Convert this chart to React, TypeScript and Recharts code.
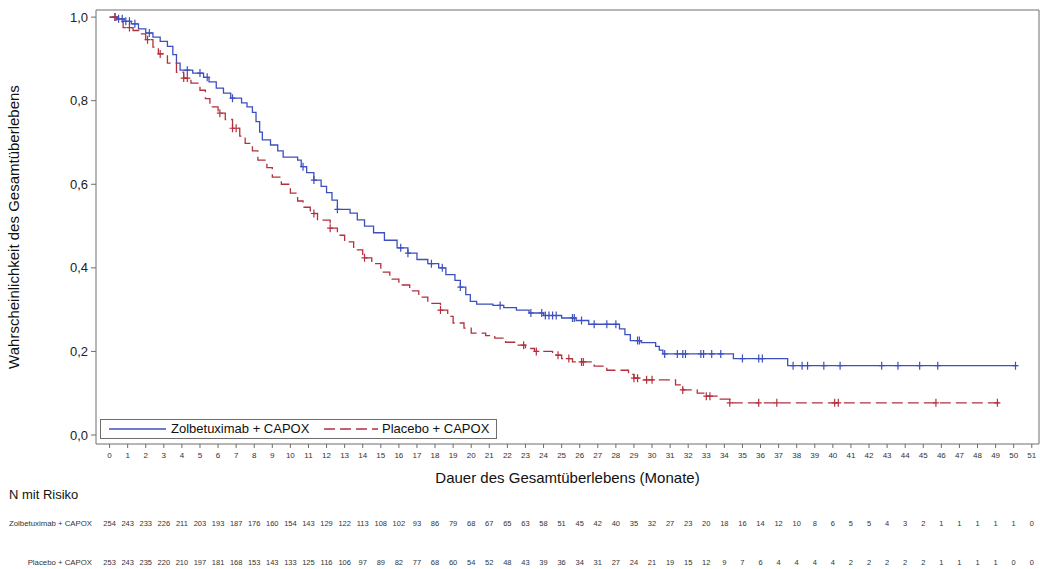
import React from 'react';
import { ComposedChart, Line, Scatter, XAxis, YAxis, Legend } from 'recharts';

// ---- Kaplan-Meier step data (months, survival probability) ----
const zolbTimes = [0, 0.4, 0.8, 1.2, 1.6, 2.0, 2.4, 2.8, 3.2, 3.5, 3.7, 3.9, 4.6, 5.2, 5.5, 5.9, 6.3, 6.7, 7.3, 7.6, 7.9, 8.1, 8.3, 8.45, 8.9, 9.3, 9.6, 10.4, 10.6, 10.9, 11.3, 11.7, 12.0, 12.3, 12.6, 13.3, 13.7, 14.1, 14.6, 15.2, 15.9, 16.5, 17.0, 17.6, 18.2, 18.6, 19.1, 19.4, 19.7, 19.95, 20.3, 21.2, 21.8, 22.5, 23.2, 24.0, 25.0, 25.8, 26.5, 28.2, 28.5, 28.8, 29.4, 30.2, 30.4, 30.6, 34.5, 37.5, 50.2];
const zolbSurv = [1.0, 0.996, 0.99, 0.984, 0.972, 0.962, 0.952, 0.942, 0.93, 0.91, 0.89, 0.873, 0.866, 0.856, 0.845, 0.83, 0.818, 0.806, 0.795, 0.785, 0.772, 0.75, 0.725, 0.706, 0.694, 0.68, 0.665, 0.658, 0.642, 0.628, 0.61, 0.595, 0.58, 0.562, 0.54, 0.531, 0.515, 0.5, 0.484, 0.466, 0.448, 0.435, 0.42, 0.41, 0.4, 0.384, 0.37, 0.354, 0.336, 0.32, 0.313, 0.31, 0.305, 0.299, 0.292, 0.286, 0.28, 0.274, 0.265, 0.254, 0.24, 0.226, 0.221, 0.212, 0.203, 0.194, 0.183, 0.166, 0.166];
const zolbCensor = [0.3, 0.5, 0.7, 0.9, 1.1, 1.4, 2.2, 4.3, 5.0, 5.4, 6.8, 10.7, 11.3, 12.6, 16.1, 16.5, 17.8, 18.4, 19.4, 21.6, 23.3, 23.9, 24.1, 24.3, 24.5, 24.7, 25.6, 25.7, 26.1, 26.8, 27.5, 28.0, 29.2, 29.3, 30.7, 31.4, 31.7, 31.85, 32.7, 32.85, 33.3, 33.8, 35.0, 35.9, 36.1, 37.8, 38.3, 38.6, 39.5, 40.4, 42.7, 43.6, 44.8, 45.8, 50.1];

const placTimes = [0, 0.4, 0.75, 1.3, 1.7, 2.0, 2.4, 2.7, 3.2, 3.7, 4.1, 4.5, 5.0, 5.3, 5.55, 6.0, 6.4, 6.8, 7.2, 7.5, 7.9, 8.2, 8.7, 9.0, 9.5, 10.0, 10.4, 10.7, 11.1, 11.5, 12.2, 12.6, 13.0, 13.5, 14.0, 14.5, 15.0, 15.5, 16.0, 16.6, 17.1, 17.6, 18.3, 18.7, 19.0, 19.6, 20.0, 20.8, 21.3, 21.9, 22.4, 23.0, 23.5, 24.5, 25.0, 25.6, 26.8, 27.5, 28.7, 29.0, 29.5, 31.3, 31.7, 32.5, 33.0, 33.6, 34.3, 49.2];
const placSurv = [1.0, 0.99, 0.975, 0.968, 0.96, 0.946, 0.928, 0.912, 0.89, 0.868, 0.854, 0.842, 0.825, 0.805, 0.785, 0.77, 0.755, 0.734, 0.715, 0.698, 0.68, 0.658, 0.64, 0.617, 0.6, 0.579, 0.56, 0.545, 0.53, 0.514, 0.495, 0.478, 0.462, 0.443, 0.424, 0.41, 0.39, 0.373, 0.359, 0.345, 0.33, 0.315, 0.299, 0.284, 0.268, 0.256, 0.244, 0.238, 0.232, 0.222, 0.215, 0.207, 0.2, 0.191, 0.183, 0.175, 0.165, 0.155, 0.145, 0.136, 0.132, 0.12, 0.108, 0.1, 0.093, 0.086, 0.077, 0.077];
const placCensor = [0.3, 1.1, 2.1, 2.8, 4.1, 4.3, 6.1, 6.8, 7.0, 11.3, 12.2, 14.1, 18.3, 22.9, 23.6, 24.8, 25.4, 26.1, 26.2, 29.0, 29.2, 29.7, 30.0, 31.7, 33.0, 33.2, 34.3, 35.9, 36.9, 40.1, 40.3, 45.7, 49.1];

// ---- number at risk ----
const zolbAtRisk = [254, 243, 233, 226, 211, 203, 193, 187, 176, 160, 154, 143, 129, 122, 113, 108, 102, 93, 86, 79, 68, 67, 65, 63, 58, 51, 45, 42, 40, 35, 32, 27, 23, 20, 18, 16, 14, 12, 10, 8, 6, 5, 5, 4, 3, 2, 1, 1, 1, 1, 1, 0];
const placAtRisk = [253, 243, 235, 220, 210, 197, 181, 168, 153, 143, 133, 125, 116, 106, 97, 89, 82, 77, 68, 60, 54, 52, 48, 43, 39, 36, 34, 31, 27, 24, 21, 19, 15, 12, 9, 7, 6, 4, 4, 4, 4, 2, 2, 2, 2, 2, 1, 1, 1, 1, 0, 0];

// ---- tick labels ----
const xTicks = [0, 1, 2, 3, 4, 5, 6, 7, 8, 9, 10, 11, 12, 13, 14, 15, 16, 17, 18, 19, 20, 21, 22, 23, 24, 25, 26, 27, 28, 29, 30, 31, 32, 33, 34, 35, 36, 37, 38, 39, 40, 41, 42, 43, 44, 45, 46, 47, 48, 49, 50, 51];
const yTicks = [0, 0.2, 0.4, 0.6, 0.8, 1.0];

const seriesNames = ['Zolbetuximab + CAPOX', 'Placebo + CAPOX'];
const xTitle = 'Dauer des Gesamtüberlebens (Monate)';
const yTitle = 'Wahrscheinlichkeit des Gesamtüberlebens';
const riskTitle = 'N mit Risiko';

const X_DOMAIN: [number, number] = [-0.75, 51.4];
const Y_DOMAIN: [number, number] = [-0.0215, 1.017];

// chart geometry
const W = 1040;
const H = 569;
const PLOT_LEFT = 96;
const PLOT_RIGHT = 1039;
const PLOT_TOP = 10;
const PLOT_BOTTOM = 444;

const BLUE = '#3d4fbf';
const RED = '#b3303d';
const AXIS = '#6e6e6e';
const FONT = '"Liberation Sans", Arial, sans-serif';

const toSteps = (times: number[], surv: number[]) => times.map((t, i) => ({ t, s: surv[i] }));
const survAt = (times: number[], surv: number[], ct: number) => {
  let v = surv[0];
  for (let i = 0; i < times.length; i++) if (times[i] <= ct) v = surv[i];
  return v;
};
const censorPts = (times: number[], surv: number[], cens: number[]) =>
  cens.map((t) => ({ t, s: survAt(times, surv, t) }));

const zolbData = toSteps(zolbTimes, zolbSurv);
const placData = toSteps(placTimes, placSurv);
const zolbCensorPts = censorPts(zolbTimes, zolbSurv, zolbCensor);
const placCensorPts = censorPts(placTimes, placSurv, placCensor);

// same linear mapping as the chart's x axis (for the at-risk table text)
const xPix = (t: number) =>
  PLOT_LEFT + ((t - X_DOMAIN[0]) / (X_DOMAIN[1] - X_DOMAIN[0])) * (PLOT_RIGHT - PLOT_LEFT);

const makeCensorShape = (color: string) => (props: any) => {
  const { cx, cy } = props;
  if (cx == null || cy == null) return <g />;
  return (
    <path d={`M${cx - 3},${cy}h6M${cx},${cy - 4}v8`} stroke={color} strokeWidth={1.2} fill="none" />
  );
};

const fmtY = (v: number) => v.toFixed(1).replace('.', ',');

const renderYLabel = (props: any) => {
  const vb = props && props.viewBox;
  const cy = vb ? vb.y + vb.height / 2 : 227;
  return (
    <text x={19} y={cy} transform={`rotate(-90, 19, ${cy})`} textAnchor="middle" fontSize={15} fill="#111" fontFamily={FONT}>
      {yTitle}
    </text>
  );
};

const renderXLabel = (props: any) => {
  const vb = props && props.viewBox;
  const cx = vb ? vb.x + vb.width / 2 : 567;
  const top = vb ? vb.y : 444;
  return (
    <text x={cx} y={top + 39} textAnchor="middle" fontSize={15} fill="#111" fontFamily={FONT}>
      {xTitle}
    </text>
  );
};

const renderLegend = () => (
  <div
    style={{
      position: 'relative',
      width: 397,
      height: 20,
      boxSizing: 'border-box',
      border: `1px solid ${AXIS}`,
      background: '#fff',
      fontFamily: FONT,
      fontSize: 13,
      color: '#111',
    }}
  >
    <svg width={397} height={18} style={{ position: 'absolute', left: 0, top: 0 }}>
      <line x1={8} x2={65} y1={9} y2={9} stroke={BLUE} strokeWidth={1.3} />
      <line x1={223} x2={277} y1={9} y2={9} stroke={RED} strokeWidth={1.3} strokeDasharray="11 5" />
    </svg>
    <span style={{ position: 'absolute', left: 70, top: 1, whiteSpace: 'nowrap' }}>{seriesNames[0]}</span>
    <span style={{ position: 'absolute', left: 281, top: 1, whiteSpace: 'nowrap' }}>{seriesNames[1]}</span>
  </div>
);

const RiskTable = () => {
  const rows = [
    { label: seriesNames[0], values: zolbAtRisk, y: 525.5 },
    { label: seriesNames[1], values: placAtRisk, y: 564.5 },
  ];
  return (
    <svg width={W} height={H} style={{ position: 'absolute', left: 0, top: 0, pointerEvents: 'none' }}>
      <text x={9} y={499} fontSize={13} fill="#111" fontFamily={FONT}>{riskTitle}</text>
      {rows.map((r) => (
        <g key={r.label}>
          <text x={92} y={r.y} fontSize={7.8} fill="#333" textAnchor="end" fontFamily={FONT}>{r.label}</text>
          {r.values.map((v, i) => (
            <text key={i} x={xPix(xTicks[i])} y={r.y} fontSize={7.5} fill="#333" textAnchor="middle" fontFamily={FONT}>
              {v}
            </text>
          ))}
        </g>
      ))}
    </svg>
  );
};

export default function App() {
  return (
    <div style={{ position: 'absolute', left: 0, top: 0, width: W, height: H, background: '#fff', fontFamily: FONT }}>
      <ComposedChart
        width={W}
        height={H}
        margin={{ top: PLOT_TOP - 1, right: 0, bottom: H - PLOT_BOTTOM - 46, left: 0 }}
      >
        <XAxis
          dataKey="t"
          type="number"
          scale="linear"
          domain={X_DOMAIN}
          allowDataOverflow
          ticks={xTicks}
          interval={0}
          height={46}
          tickSize={4}
          tickMargin={4}
          tick={{ fontSize: 8, fill: '#333' }}
          tickLine={{ stroke: AXIS }}
          axisLine={{ stroke: AXIS }}
          label={renderXLabel}
        />
        <XAxis
          xAxisId="top"
          orientation="top"
          type="number"
          domain={X_DOMAIN}
          allowDataOverflow
          height={1}
          tick={false}
          tickLine={false}
          axisLine={{ stroke: AXIS }}
        />
        <YAxis
          type="number"
          domain={Y_DOMAIN}
          allowDataOverflow
          ticks={yTicks}
          interval={0}
          width={PLOT_LEFT}
          tickSize={5}
          tickMargin={3}
          tickFormatter={fmtY}
          tick={{ fontSize: 13, fill: '#222' }}
          tickLine={{ stroke: AXIS }}
          axisLine={{ stroke: AXIS }}
          label={renderYLabel}
        />
        <YAxis
          yAxisId="right"
          orientation="right"
          type="number"
          domain={Y_DOMAIN}
          allowDataOverflow
          width={W - PLOT_RIGHT}
          tick={false}
          tickLine={false}
          axisLine={{ stroke: AXIS }}
        />
        <Legend
          layout="vertical"
          align="center"
          verticalAlign="middle"
          content={renderLegend}
          wrapperStyle={{ position: 'absolute', left: 100, top: 419, width: 397, height: 20 }}
        />
        <Line
          data={zolbData}
          dataKey="s"
          type="stepAfter"
          stroke={BLUE}
          strokeWidth={1.3}
          dot={false}
          activeDot={false}
          isAnimationActive={false}
          name={seriesNames[0]}
        />
        <Line
          data={placData}
          dataKey="s"
          type="stepAfter"
          stroke={RED}
          strokeWidth={1.3}
          strokeDasharray="11 5"
          dot={false}
          activeDot={false}
          isAnimationActive={false}
          name={seriesNames[1]}
        />
        <Scatter data={zolbCensorPts} dataKey="s" shape={makeCensorShape(BLUE)} isAnimationActive={false} />
        <Scatter data={placCensorPts} dataKey="s" shape={makeCensorShape(RED)} isAnimationActive={false} />
      </ComposedChart>
      <RiskTable />
    </div>
  );
}
